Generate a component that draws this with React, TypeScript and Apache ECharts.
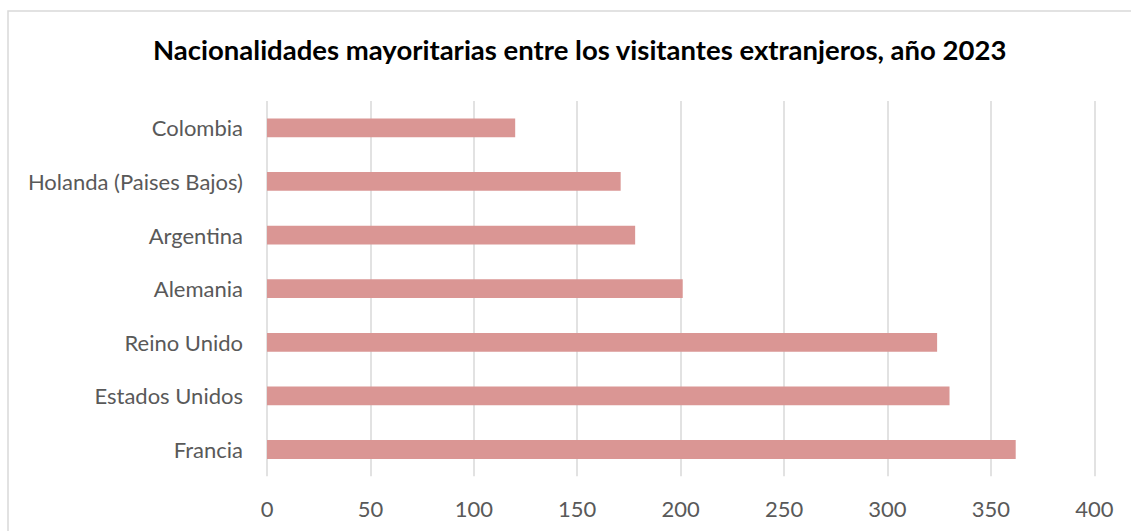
import React, { useEffect, useRef } from "react";
import * as echarts from "echarts";

const categories = [
  "Colombia",
  "Holanda (Paises Bajos)",
  "Argentina",
  "Alemania",
  "Reino Unido",
  "Estados Unidos",
  "Francia",
];
const values = [120, 171, 178, 201, 324, 330, 362];
const titleText = "Nacionalidades mayoritarias entre los visitantes extranjeros, año 2023";

export default function App() {
  const ref = useRef<HTMLDivElement>(null);
  useEffect(() => {
    if (!ref.current) return;
    const chart = echarts.init(ref.current, undefined, { renderer: "svg" });
    const font = "Lato, 'Open Sans', sans-serif";
    chart.setOption({
      animation: false,
      backgroundColor: "#ffffff",
      title: {
        text: titleText,
        left: 148,
        top: 30,
        textStyle: { fontFamily: font, fontWeight: "bold", fontSize: 27.5, color: "#000000" },
      },
      graphic: [
        {
          type: "rect",
          shape: { x: 8, y: 11, width: 1140, height: 540 },
          style: { fill: "none", stroke: "#D9D9D9", lineWidth: 1.5 },
          silent: true,
        },
      ],
      grid: { left: 267, right: 36.7, top: 101, bottom: 54.7, containLabel: false },
      xAxis: {
        type: "value",
        min: 0,
        max: 400,
        interval: 50,
        axisLine: { show: false },
        axisTick: { show: false },
        splitLine: { show: true, lineStyle: { color: "#D9D9D9", width: 1.5 } },
        axisLabel: { color: "#595959", fontSize: 22, fontFamily: font, margin: 21 },
      },
      yAxis: {
        type: "category",
        inverse: true,
        data: categories,
        axisLine: { show: false },
        axisTick: { show: false },
        axisLabel: { color: "#595959", fontSize: 22, fontFamily: font, margin: 24 },
      },
      series: [
        {
          type: "bar",
          data: values,
          barWidth: "35%",
          itemStyle: { color: "#DA9694" },
        },
      ],
    });
    return () => chart.dispose();
  }, []);
  return (
    <div
      ref={ref}
      style={{ position: "fixed", left: 0, top: 0, width: 1131, height: 531 }}
    />
  );
}
